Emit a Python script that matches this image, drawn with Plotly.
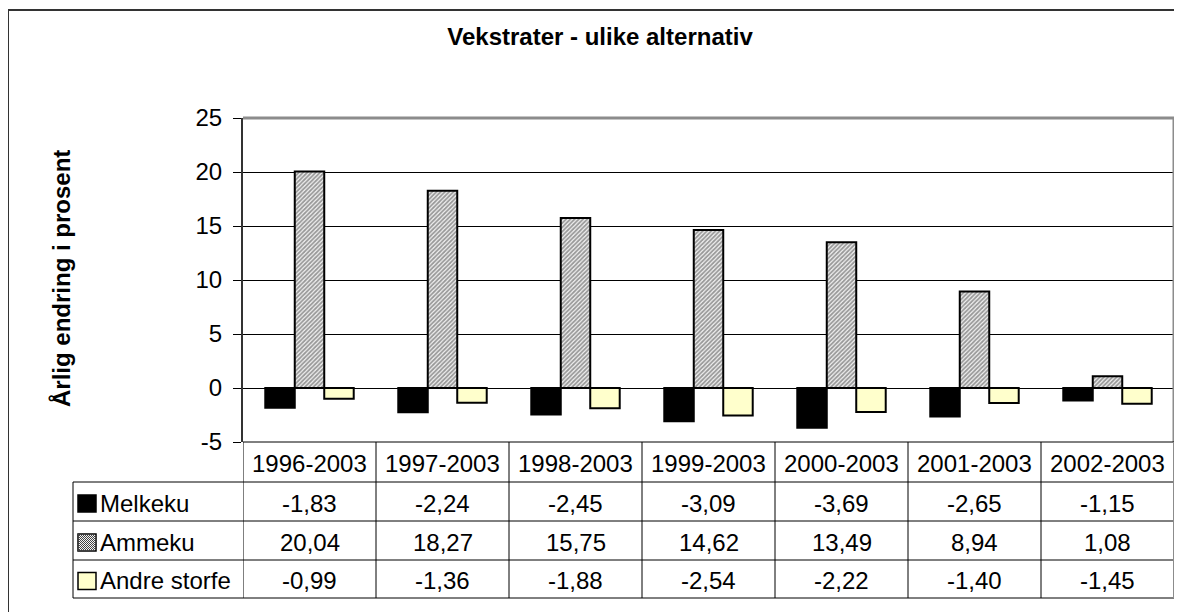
import plotly.graph_objects as go

# data
CATEGORIES = ["1996-2003", "1997-2003", "1998-2003", "1999-2003",
              "2000-2003", "2001-2003", "2002-2003"]
SERIES = ["Melkeku", "Ammeku", "Andre storfe"]
MELKEKU = [-1.83, -2.24, -2.45, -3.09, -3.69, -2.65, -1.15]
AMMEKU = [20.04, 18.27, 15.75, 14.62, 13.49, 8.94, 1.08]
ANDRE_STORFE = [-0.99, -1.36, -1.88, -2.54, -2.22, -1.40, -1.45]
Y_TICKS = [-5, 0, 5, 10, 15, 20, 25]

TITLE = "Vekstrater - ulike alternativ"
Y_TITLE = "Årlig endring i prosent"

FONT = "Arial, Liberation Sans, sans-serif"
OFF = 8  # page body margin; positions below are page pixels
W, H = 1182 - OFF, 612 - OFF
ML, MR, MT, MB = 243 - OFF, 8, 118 - OFF, 170
PW, PH = W - ML - MR, H - MT - MB


def px(x):
    return (x - OFF - ML) / PW


def py(y):
    return (H - MB - (y - OFF)) / PH


def fmt(v):
    return f"{v:.2f}".replace(".", ",")


fig = go.Figure()
line = dict(color="black", width=2)
fig.add_bar(name=SERIES[0], x=CATEGORIES, y=MELKEKU,
            marker=dict(color="black", line=line))
fig.add_bar(name=SERIES[1], x=CATEGORIES, y=AMMEKU,
            marker=dict(color="white", line=line,
                        pattern=dict(shape="/", fgcolor="#3c3c3c", bgcolor="#f4f4f4",
                                     size=3, solidity=0.6)))
fig.add_bar(name=SERIES[2], x=CATEGORIES, y=ANDRE_STORFE,
            marker=dict(color="#FFFFCC", line=line))

fig.update_layout(
    width=W, height=H, margin=dict(l=ML, r=MR, t=MT, b=MB),
    plot_bgcolor="white", paper_bgcolor="white",
    barmode="group", bargap=0.335, bargroupgap=0, showlegend=False,
    font=dict(family=FONT, size=24, color="black"),
    title=dict(text=f"<b>{TITLE}</b>", x=(600 - OFF) / W, xref="container",
               xanchor="center", y=1 - (37 - OFF) / H, yanchor="middle",
               font=dict(size=24)),
)
fig.update_xaxes(showticklabels=False, showgrid=False, ticks="", showline=False,
                 range=[-0.5, len(CATEGORIES) - 0.5])
fig.update_yaxes(range=[-5, 25], tickvals=Y_TICKS, ticktext=[str(t) for t in Y_TICKS],
                 showgrid=True, gridcolor="black", gridwidth=1,
                 zeroline=True, zerolinecolor="black", zerolinewidth=1,
                 ticks="outside", ticklen=8, tickcolor="black", ticklabelstandoff=6,
                 showline=True, linecolor="#333333", linewidth=2)

shapes = []
# outer frame (left and top)
shapes.append(dict(type="line", xref="paper", yref="paper", x0=px(8), x1=px(1190),
                   y0=py(10), y1=py(10), line=dict(color="#333333", width=2)))
shapes.append(dict(type="line", xref="paper", yref="paper", x0=px(8), x1=px(8),
                   y0=py(10), y1=py(620), line=dict(color="#333333", width=2)))
# plot area border top/right
shapes.append(dict(type="line", xref="paper", yref="paper", x0=0, x1=1, y0=1, y1=1,
                   line=dict(color="#8c8c8c", width=3)))
shapes.append(dict(type="line", xref="paper", yref="paper", x0=1, x1=1, y0=0, y1=1,
                   line=dict(color="#8c8c8c", width=3)))

# data table
ROW_Y = [442, 482, 521, 560, 598]
tl = dict(color="black", width=1)
for i, yy in enumerate(ROW_Y):
    x0 = 0 if i == 0 else px(73)
    shapes.append(dict(type="line", xref="paper", yref="paper", x0=x0, x1=1,
                       y0=py(yy), y1=py(yy), line=tl))
shapes.append(dict(type="line", xref="paper", yref="paper", x0=px(73), x1=px(73),
                   y0=py(ROW_Y[1]), y1=py(ROW_Y[-1]), line=tl))
for k in range(len(CATEGORIES)):
    shapes.append(dict(type="line", xref="x", yref="paper", x0=k - 0.5, x1=k - 0.5,
                       y0=py(ROW_Y[0]), y1=py(ROW_Y[-1]), line=tl))
shapes.append(dict(type="line", xref="paper", yref="paper", x0=1, x1=1,
                   y0=py(ROW_Y[0]), y1=py(ROW_Y[-1]), line=dict(color="#8c8c8c", width=2)))

annotations = []
hdr_y = py((ROW_Y[0] + ROW_Y[1]) / 2 + 1)
for k, c in enumerate(CATEGORIES):
    annotations.append(dict(x=k, y=hdr_y, xref="x", yref="paper", text=c,
                            showarrow=False, xanchor="center", yanchor="middle"))

rows = [MELKEKU, AMMEKU, ANDRE_STORFE]
key_fill = ["black", "#f4f4f4", "#FFFFCC"]
for r, (name, vals) in enumerate(zip(SERIES, rows)):
    yc = (ROW_Y[r + 1] + ROW_Y[r + 2]) / 2 + 1.5
    for k, v in enumerate(vals):
        annotations.append(dict(x=k, y=py(yc), xref="x", yref="paper", text=fmt(v),
                                showarrow=False, xanchor="center", yanchor="middle"))
    annotations.append(dict(x=px(98), y=py(yc), xref="paper", yref="paper", text=name,
                            showarrow=False, xanchor="left", yanchor="middle"))
    # legend key
    kx0, kx1, ky0, ky1 = 78, 96, yc - 8, yc + 9
    shapes.append(dict(type="rect", xref="paper", yref="paper",
                       x0=px(kx0), x1=px(kx1), y0=py(ky0), y1=py(ky1),
                       fillcolor=key_fill[r], line=dict(color="black", width=1.5)))
    if r == 1:
        path = ""
        for d in range(-18, 18, 2):
            xa, ya = kx0 + d, ky1
            xb, yb = kx0 + d + (ky1 - ky0), ky0
            if xa < kx0:
                ya -= kx0 - xa
                xa = kx0
            if xb > kx1:
                yb += xb - kx1
                xb = kx1
            if xa < xb:
                path += f"M{px(xa)},{py(ya)} L{px(xb)},{py(yb)} "
        shapes.append(dict(type="path", xref="paper", yref="paper", path=path,
                           line=dict(color="#444444", width=1)))

# y axis title
annotations.append(dict(x=px(61), y=py(279), xref="paper", yref="paper",
                        text=f"<b>{Y_TITLE}</b>", textangle=-90, showarrow=False,
                        xanchor="center", yanchor="middle"))

fig.update_layout(shapes=shapes, annotations=annotations)
fig.write_html("out.html")
